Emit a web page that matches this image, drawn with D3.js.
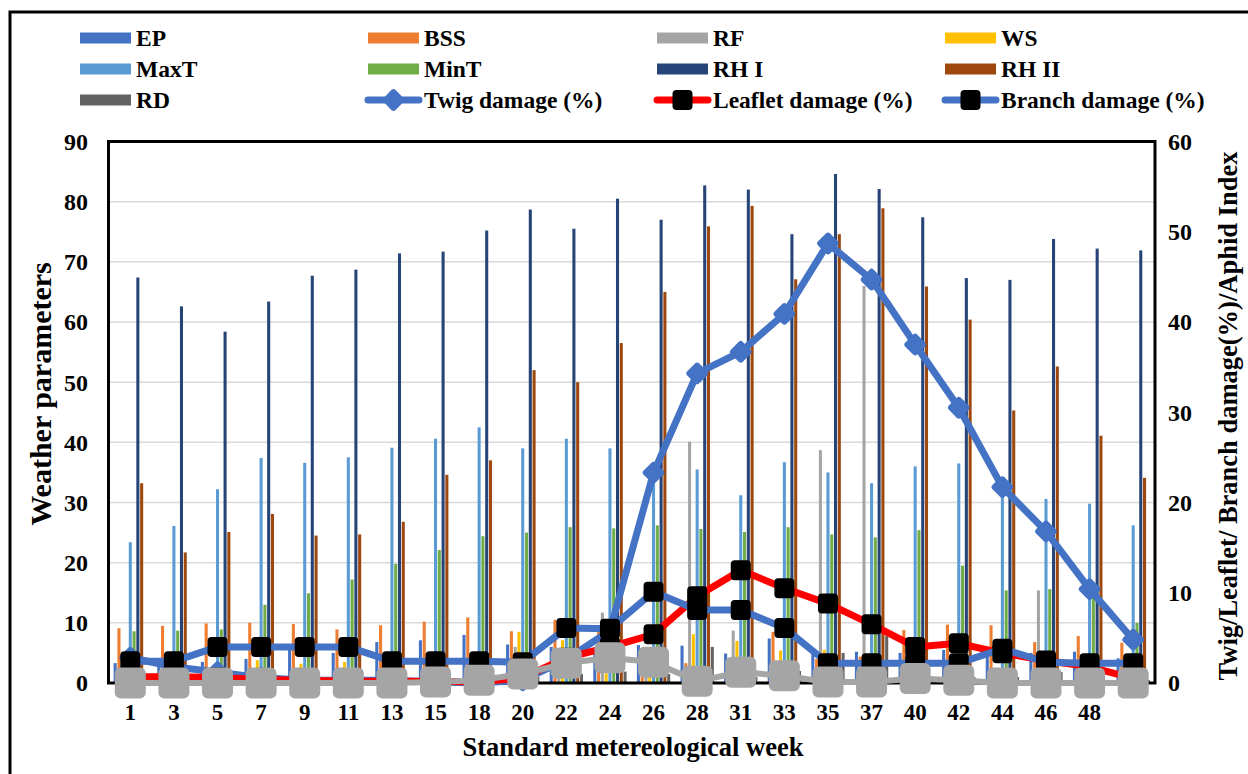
<!DOCTYPE html>
<html>
<head>
<meta charset="utf-8">
<script src="https://cdn.jsdelivr.net/npm/d3@7"></script>
<style>
  html, body { margin: 0; padding: 0; background: #fff; }
  svg { display: block; }
  svg text { font-family: "Liberation Serif", "Tinos", "DejaVu Serif", serif; font-weight: bold; }
</style>
</head>
<body>
<svg id="chart" width="1248" height="774"></svg>
<script>
// Standard meteorological weeks (last week has no printed label)
const weekLabels = ["1","3","5","7","9","11","13","15","18","20","22","24","26","28","31","33","35","37","40","42","44","46","48",""];

// Weather parameters (left axis)
const EP   = [3.3, 3.0, 3.5, 4.0, 5.5, 5.0, 6.8, 7.1, 8.0, 6.4, 6.0, 5.0, 6.3, 6.2, 4.9, 7.4, 5.0, 5.2, 5.0, 5.5, 6.0, 5.0, 5.2, 4.1];
const BSS  = [9.1, 9.5, 9.9, 10.0, 9.8, 8.9, 9.6, 10.2, 10.9, 8.6, 10.5, 9.5, 5.5, 3.3, 3.0, 8.5, 4.0, 4.4, 8.8, 9.7, 9.6, 6.8, 7.8, 6.7];
const RF   = [0.5, 0.3, 0.2, 0.5, 0.3, 0.5, 0.2, 0.3, 0.5, 6.0, 5.1, 11.7, 3.0, 40.1, 8.7, 3.0, 38.7, 66.0, 2.0, 3.0, 2.5, 15.4, 1.0, 0.5];
const WS   = [0.5, 0.5, 1.0, 3.8, 3.2, 3.5, 2.0, 2.5, 4.8, 8.5, 7.1, 1.6, 1.2, 8.1, 7.0, 5.4, 5.5, 2.0, 1.5, 2.0, 1.5, 1.0, 0.8, 0.5];
const MaxT = [23.4, 26.1, 32.2, 37.4, 36.6, 37.5, 39.1, 40.6, 42.5, 39.0, 40.6, 39.0, 35.0, 35.5, 31.2, 36.7, 35.0, 33.2, 36.0, 36.5, 33.0, 30.6, 29.8, 26.2];
const MinT = [8.6, 8.7, 8.9, 13.0, 14.9, 17.2, 19.8, 22.1, 24.4, 25.0, 25.9, 25.7, 26.2, 25.6, 25.1, 25.9, 24.7, 24.2, 25.4, 19.5, 15.4, 15.6, 15.5, 10.0];
const RH1  = [67.4, 62.6, 58.4, 63.4, 67.7, 68.7, 71.4, 71.7, 75.2, 78.7, 75.5, 80.5, 77.0, 82.7, 82.0, 74.6, 84.6, 82.1, 77.4, 67.3, 67.0, 73.8, 72.2, 71.9];
const RH2  = [33.2, 21.7, 25.1, 28.1, 24.5, 24.7, 26.8, 34.6, 37.0, 52.0, 50.0, 56.5, 65.0, 75.9, 79.3, 67.1, 74.6, 78.9, 65.9, 60.4, 45.3, 52.6, 41.1, 34.1];
const RD   = [0.3, 0.3, 0.3, 0.3, 0.3, 0.3, 0.3, 0.3, 0.5, 1.0, 1.5, 1.9, 1.5, 6.0, 1.0, 2.0, 5.0, 7.8, 1.0, 1.0, 1.0, 1.8, 0.5, 0.5];

// Damage and aphid index (right axis)
const twigDamage    = [2.8, 1.8, 1.2, 0.6, 0.3, 0.3, 0.3, 0.1, 0.0, 0.3, 2.6, 5.8, 23.3, 34.3, 36.7, 40.9, 48.7, 44.7, 37.5, 30.5, 21.7, 16.8, 10.4, 4.8];
const leafletDamage = [0.7, 0.7, 0.6, 0.4, 0.3, 0.2, 0.2, 0.2, 0.1, 0.6, 2.8, 4.0, 5.4, 9.6, 12.5, 10.5, 8.8, 6.5, 4.0, 4.4, 3.3, 2.5, 1.8, 0.5];
const branchDamage  = [2.4, 2.4, 4.0, 4.0, 4.0, 4.0, 2.4, 2.4, 2.4, 2.3, 6.1, 6.0, 10.1, 8.1, 8.1, 6.1, 2.2, 2.2, 2.2, 2.2, 3.8, 2.3, 2.2, 2.2];
const aphidIndex    = [0.0, 0.0, 0.0, 0.0, 0.0, 0.0, 0.0, 0.1, 0.3, 1.0, 2.2, 2.8, 2.3, 0.2, 1.2, 0.8, 0.1, 0.1, 0.5, 0.3, 0.0, 0.0, 0.0, 0.0];

// Axis ticks
const leftTicks  = [0, 10, 20, 30, 40, 50, 60, 70, 80, 90];
const rightTicks = [0, 10, 20, 30, 40, 50, 60];

const barSeries = [
  { name: "EP",    values: EP,   color: "#4472C4" },
  { name: "BSS",   values: BSS,  color: "#ED7D31" },
  { name: "RF",    values: RF,   color: "#A5A5A5" },
  { name: "WS",    values: WS,   color: "#FFC000" },
  { name: "MaxT",  values: MaxT, color: "#5B9BD5" },
  { name: "MinT",  values: MinT, color: "#70AD47" },
  { name: "RH I",  values: RH1,  color: "#264478" },
  { name: "RH II", values: RH2,  color: "#9E480E" },
  { name: "RD",    values: RD,   color: "#636363" }
];

const lineSeries = [
  { name: "Twig damage (%)",    values: twigDamage,    line: "#4472C4", marker: "diamond", fill: "#4472C4" },
  { name: "Leaflet damage (%)", values: leafletDamage, line: "#FF0000", marker: "square",  fill: "#000000" },
  { name: "Branch damage (%)",  values: branchDamage,  line: "#4472C4", marker: "square",  fill: "#000000" },
  { name: "Aphid Index",        values: aphidIndex,    line: "#A5A5A5", marker: "big",     fill: "#A5A5A5", noLegend: true }
];

const svg = d3.select("#chart");
const plot = { left: 108.5, right: 1155, top: 141.5, bottom: 683 };

function label(sel, size) {
  return sel.style("font-family", '"Liberation Serif", Tinos, "DejaVu Serif", serif')
    .style("font-weight", "bold").style("font-size", size + "px").attr("fill", "#000");
}

const idx = d3.range(weekLabels.length);
const x = d3.scaleBand().domain(idx).range([plot.left, plot.right]).paddingInner(0).paddingOuter(0);
const xInner = d3.scaleBand().domain(barSeries.map(d => d.name))
  .range([-x.bandwidth() * 0.382, x.bandwidth() * 0.382]).paddingInner(0.19);
const yLeft  = d3.scaleLinear().domain([0, 90]).range([plot.bottom, plot.top]);
const yRight = d3.scaleLinear().domain([0, 60]).range([plot.bottom, plot.top]);

// outer frame
svg.append("rect").attr("x", 10).attr("y", 12).attr("width", 1300).attr("height", 800)
  .attr("fill", "none").attr("stroke", "#000").attr("stroke-width", 3);

// gridlines
svg.append("g").selectAll("line").data(leftTicks.slice(1)).join("line")
  .attr("x1", plot.left).attr("x2", plot.right)
  .attr("y1", d => yLeft(d)).attr("y2", d => yLeft(d))
  .attr("stroke", "#d9d9d9").attr("stroke-width", 1.5);

// bars
const gBars = svg.append("g");
barSeries.forEach(s => {
  gBars.append("g").selectAll("rect").data(s.values).join("rect")
    .attr("x", (d, i) => x(i) + x.bandwidth() / 2 + xInner(s.name))
    .attr("width", xInner.bandwidth())
    .attr("y", d => yLeft(d))
    .attr("height", d => yLeft(0) - yLeft(d))
    .attr("fill", s.color);
});

// plot border
svg.append("rect").attr("x", plot.left).attr("y", plot.top)
  .attr("width", plot.right - plot.left).attr("height", plot.bottom - plot.top)
  .attr("fill", "none").attr("stroke", "#000").attr("stroke-width", 3);

// marker drawing
function drawMarker(g, type, fill) {
  if (type === "diamond") {
    g.append("rect").attr("x", -8.5).attr("y", -8.5).attr("width", 17).attr("height", 17)
      .attr("rx", 3).attr("transform", "rotate(45)").attr("fill", fill);
  } else if (type === "square") {
    g.append("rect").attr("x", -10).attr("y", -10).attr("width", 20).attr("height", 20)
      .attr("rx", 4).attr("fill", fill);
  } else {
    g.append("rect").attr("x", -15.5).attr("y", -15.5).attr("width", 31).attr("height", 31)
      .attr("rx", 6).attr("fill", fill);
  }
}

// lines + markers
const line = d3.line().x((d, i) => x(i) + x.bandwidth() / 2).y(d => yRight(d));
lineSeries.forEach(s => {
  const g = svg.append("g");
  g.append("path").datum(s.values).attr("d", line)
    .attr("fill", "none").attr("stroke", s.line)
    .attr("stroke-width", s.marker === "big" ? 6 : 7)
    .attr("stroke-linejoin", "round").attr("stroke-linecap", "round");
  s.values.forEach((v, i) => {
    const m = g.append("g").attr("transform", `translate(${x(i) + x.bandwidth() / 2},${yRight(v)})`);
    drawMarker(m, s.marker, s.fill);
  });
});

// left axis labels
label(svg.append("g").selectAll("text").data(leftTicks).join("text"), 24)
  .attr("x", 88).attr("y", d => yLeft(d)).attr("dy", "0.35em")
  .attr("text-anchor", "end").text(d => d);

// right axis labels
label(svg.append("g").selectAll("text").data(rightTicks).join("text"), 24)
  .attr("x", 1168).attr("y", d => yRight(d)).attr("dy", "0.35em")
  .attr("text-anchor", "start").text(d => d);

// x labels
label(svg.append("g").selectAll("text").data(idx).join("text"), 23)
  .attr("x", i => x(i) + x.bandwidth() / 2).attr("y", 720)
  .attr("text-anchor", "middle").text(i => weekLabels[i]);

// axis titles
label(svg.append("text"), 26.5).attr("x", 633).attr("y", 756).attr("text-anchor", "middle")
  .text("Standard metereological week");
label(svg.append("text"), 30).attr("transform", "translate(51,394) rotate(-90)").attr("text-anchor", "middle")
  .text("Weather parameters");
label(svg.append("text"), 26.5).attr("transform", "translate(1237,416) rotate(-90)").attr("text-anchor", "middle")
  .text("Twig/Leaflet/ Branch damage(%)/Aphid Index");

// legend
const legendItems = barSeries.map(s => ({ name: s.name, type: "bar", color: s.color }))
  .concat(lineSeries.filter(s => !s.noLegend).map(s => ({ name: s.name, type: "line", line: s.line, marker: s.marker, fill: s.fill })));
const colX = [80, 368, 657, 945];
const rowY = [38, 69, 100];
legendItems.forEach((it, k) => {
  const cx = colX[k % 4], cy = rowY[Math.floor(k / 4)];
  const g = svg.append("g").attr("transform", `translate(${cx},${cy})`);
  if (it.type === "bar") {
    g.append("rect").attr("x", 0).attr("y", -5.5).attr("width", 51).attr("height", 11).attr("fill", it.color);
  } else {
    g.append("line").attr("x1", 0).attr("x2", 51).attr("y1", 0).attr("y2", 0)
      .attr("stroke", it.line).attr("stroke-width", 7).attr("stroke-linecap", "round");
    drawMarker(g.append("g").attr("transform", "translate(25.5,0)"), it.marker, it.fill);
  }
  label(g.append("text"), 23.5).attr("x", 56).attr("y", 0).attr("dy", "0.35em").text(it.name);
});
</script>
</body>
</html>
